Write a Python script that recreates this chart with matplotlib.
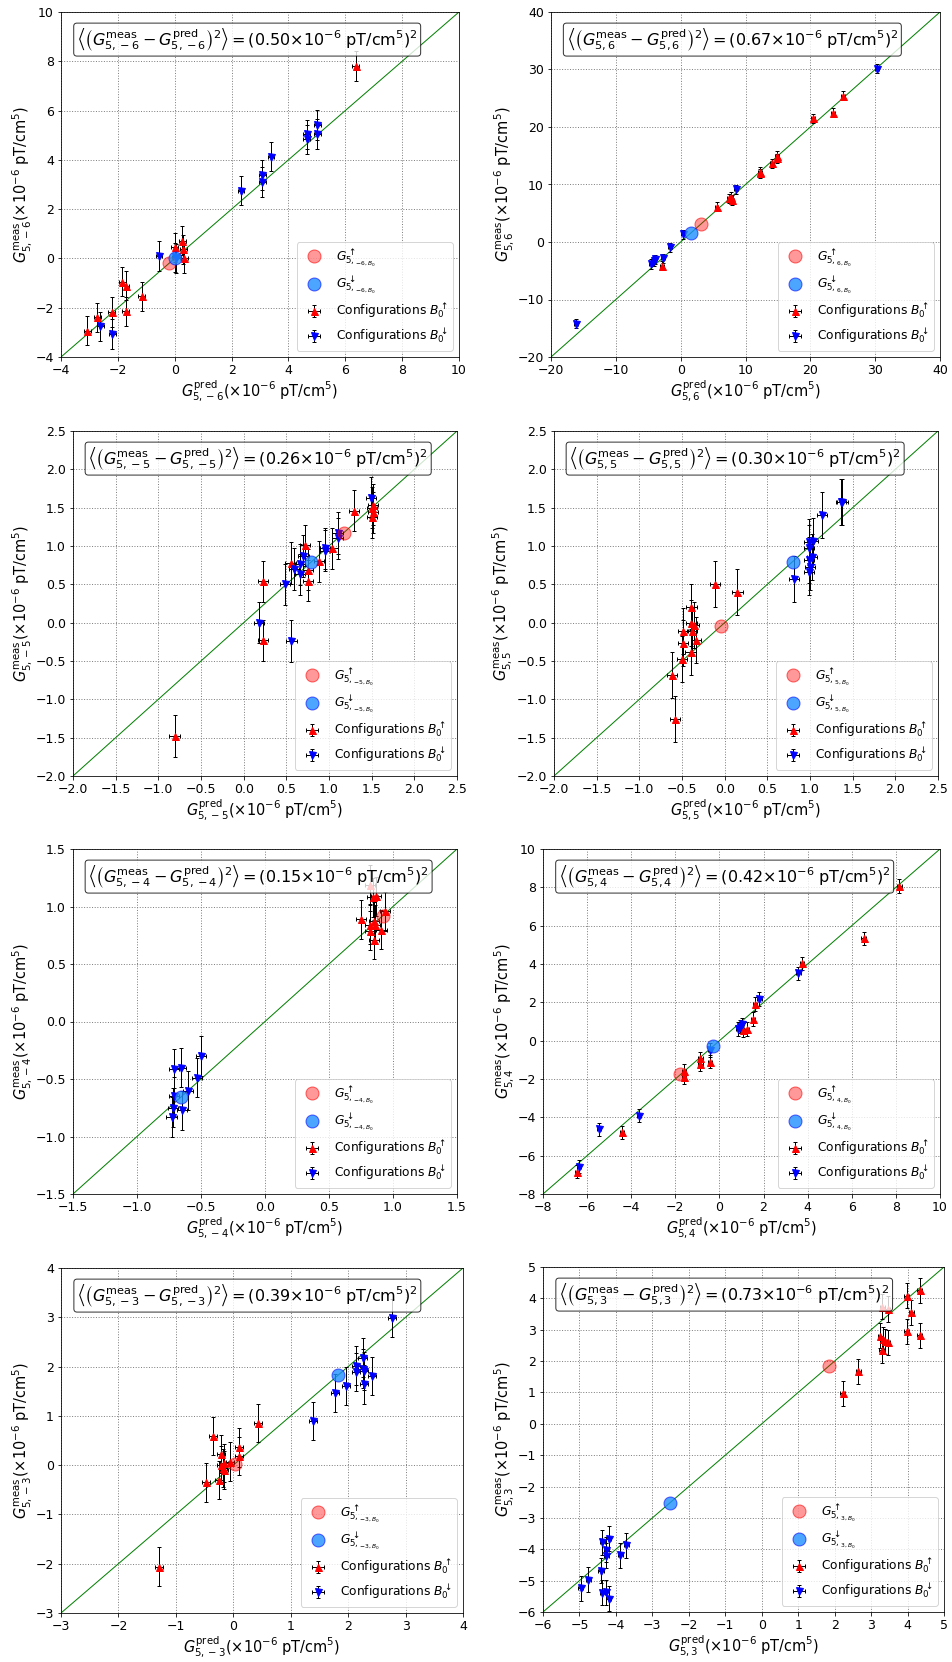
import numpy as np
import matplotlib
matplotlib.use('Agg')
import matplotlib.pyplot as plt

plt.rcParams['font.size'] = 12

# panel order: m = -6, 6, -5, 5, -4, 4, -3, 3
m_values = [-6, 6, -5, 5, -4, 4, -3, 3]
rms_values = ['0.50', '0.67', '0.26', '0.30', '0.15', '0.42', '0.39', '0.73']
limits = [(-4, 10), (-20, 40), (-2, 2.5), (-2, 2.5), (-1.5, 1.5), (-8, 10), (-3, 4), (-6, 5)]
tick_steps = [2, 10, 0.5, 0.5, 0.5, 2, 1, 1]

# Configurations B0 up (red triangles)
up_x = [
    [6.37, 0.00, 0.27, 0.30, 0.33, -1.84, -1.73, -1.73, -1.16, -2.21, -2.73, -3.07],
    [24.99, 23.55, 20.37, 14.87, 14.80, 14.10, 12.17, 12.25, 7.78, 7.43, 7.85, 5.53, -2.85],
    [-0.81, 0.23, 0.23, 0.55, 0.72, 0.75, 0.75, 0.88, 1.04, 1.29, 1.50, 1.52, 1.52, 1.50],
    [-0.58, -0.62, -0.50, -0.49, -0.49, -0.40, -0.39, -0.39, -0.38, -0.36, -0.34, -0.11, 0.15],
    [0.75, 0.82, 0.84, 0.87, 0.82, 0.82, 0.85, 0.86, 0.85, 0.91, 0.94],
    [8.16, 6.54, 3.75, 1.62, 1.51, 1.23, 1.05, -0.43, -0.86, -0.86, -1.60, -1.60, -4.42, -6.46],
    [-1.30, -0.48, -0.25, -0.35, -0.22, -0.22, -0.18, -0.16, -0.17, -0.05, 0.10, 0.10, 0.43],
    [4.34, 3.98, 4.10, 3.31, 3.46, 3.98, 4.34, 3.25, 3.32, 3.37, 3.46, 3.29, 2.65, 2.22],
]
up_y = [
    [7.80, 0.45, 0.72, 0.37, 0.01, -0.94, -1.10, -2.15, -1.54, -2.17, -2.39, -2.93],
    [25.43, 22.47, 21.48, 14.94, 14.55, 13.68, 12.23, 11.95, 7.89, 7.61, 7.31, 6.16, -4.13],
    [-1.48, 0.54, -0.23, 0.78, 1.01, 0.69, 0.55, 0.80, 0.97, 1.46, 1.38, 1.54, 1.44, 1.50],
    [-1.25, -0.68, -0.47, -0.27, -0.11, -0.38, 0.20, -0.01, -0.11, -0.03, -0.22, 0.50, 0.40],
    [0.89, 1.19, 1.08, 1.09, 0.84, 0.79, 0.87, 0.84, 0.71, 0.80, 0.96],
    [8.07, 5.34, 4.03, 1.91, 1.13, 0.61, 0.55, -1.10, -0.92, -1.23, -1.57, -1.91, -4.78, -6.83],
    [-2.06, -0.35, -0.30, 0.59, 0.23, 0.00, -0.06, -0.10, 0.04, 0.07, 0.36, 0.19, 0.86],
    [4.26, 4.08, 3.55, 3.74, 3.66, 2.95, 2.82, 2.81, 2.70, 2.63, 2.60, 2.34, 1.67, 0.98],
]

# Configurations B0 down (blue triangles)
dn_x = [
    [3.39, 3.08, 3.08, 2.33, 4.64, 4.64, 5.02, 5.02, -0.55, 0.01, 0.06, -2.62, -2.20],
    [30.33, 8.50, 0.29, -1.67, -2.75, -3.98, -4.18, -4.59, -16.15],
    [0.18, 0.56, 0.48, 0.59, 0.66, 0.66, 0.70, 0.95, 0.95, 1.10, 1.10, 1.49],
    [0.81, 0.99, 1.03, 0.99, 1.02, 0.99, 1.00, 0.99, 1.14, 1.36, 1.38],
    [-0.71, -0.66, -0.50, -0.53, -0.60, -0.71, -0.72, -0.65, -0.73],
    [3.58, 1.81, 1.01, 0.86, 0.94, -0.42, -3.66, -5.46, -6.37],
    [2.77, 2.25, 2.14, 2.25, 2.27, 2.14, 2.42, 2.27, 1.96, 1.77, 1.39],
    [-4.38, -4.20, -3.72, -3.88, -4.27, -4.27, -4.41, -4.76, -4.96, -4.38, -4.27, -4.20],
]
dn_y = [
    [4.13, 3.38, 3.11, 2.75, 5.03, 4.83, 5.41, 5.04, 0.10, 0.04, 0.00, -2.76, -3.06],
    [30.17, 9.17, 1.35, -0.95, -2.80, -2.98, -3.38, -3.84, -14.21],
    [0.00, -0.24, 0.50, 0.70, 0.76, 0.63, 0.87, 0.97, 0.94, 1.17, 1.10, 1.63],
    [0.57, 1.05, 1.07, 0.97, 0.86, 0.82, 0.73, 0.66, 1.41, 1.57, 1.57],
    [-0.41, -0.40, -0.30, -0.49, -0.60, -0.65, -0.75, -0.77, -0.83],
    [3.51, 2.17, 0.85, 0.61, 0.73, -0.49, -3.91, -4.63, -6.57],
    [2.99, 2.18, 2.02, 1.96, 1.91, 1.89, 1.81, 1.64, 1.61, 1.46, 0.90],
    [-3.78, -3.66, -3.87, -4.19, -4.01, -4.20, -4.68, -4.97, -5.25, -5.39, -5.37, -5.57],
]

# error bar half-widths per panel
x_err = [0.12, 0.3, 0.06, 0.06, 0.04, 0.1, 0.07, 0.07]
y_err = [0.6, 0.8, 0.27, 0.3, 0.17, 0.35, 0.39, 0.4]

# fitted G up / G down points
g_up = [(-0.20, -0.19), (3.11, 3.15), (1.17, 1.17), (-0.04, -0.04),
        (0.92, 0.92), (-1.78, -1.76), (0.03, 0.02), (1.85, 1.83)]
g_dn = [(0.01, 0.01), (1.57, 1.64), (0.79, 0.79), (0.80, 0.79),
        (-0.66, -0.66), (-0.30, -0.28), (1.82, 1.82), (-2.51, -2.53)]

# axes boxes in pixels: left, right, top, bottom
boxes = [(61, 459, 12, 357), (551, 940, 12, 357),
         (73, 457, 431, 776), (554, 938, 431, 776),
         (73, 457, 849, 1194), (543, 940, 849, 1194),
         (61, 463, 1268, 1613), (543, 944, 1267, 1612)]

W, H = 952, 1662
fig = plt.figure(figsize=(W / 72, H / 72), dpi=72)

for i in range(8):
    l, r, t, b = boxes[i]
    ax = fig.add_axes([l / W, 1 - b / H, (r - l) / W, (b - t) / H])
    m = m_values[i]
    sub = f"5,{m}"
    lo, hi = limits[i]

    ax.plot([lo, hi], [lo, hi], color='green', lw=1)
    e1 = ax.errorbar(up_x[i], up_y[i], xerr=x_err[i], yerr=y_err[i], fmt='^', color='red',
                     ecolor='k', elinewidth=1, capsize=2, ms=7)
    e2 = ax.errorbar(dn_x[i], dn_y[i], xerr=x_err[i], yerr=y_err[i], fmt='v', color='blue',
                     ecolor='k', elinewidth=1, capsize=2, ms=7)
    c1, = ax.plot(g_up[i][0], g_up[i][1], 'o', ms=13, mfc=(1, 0, 0, 0.4), mec=(1, 0, 0, 0.6),
                  mew=1, zorder=3)
    c2, = ax.plot(g_dn[i][0], g_dn[i][1], 'o', ms=13, mfc=(0.12, 0.56, 1, 0.8), mec=(0, 0, 1, 0.6),
                  mew=1, zorder=3)

    ax.set_xlim(lo, hi)
    ax.set_ylim(lo, hi)
    ticks = np.arange(lo, hi + 1e-9, tick_steps[i])
    ax.set_xticks(ticks)
    ax.set_yticks(ticks)
    ax.tick_params(labelsize=12.5)
    ax.grid(True, linestyle=':', color='gray', lw=1)

    ax.set_xlabel(rf"$G^{{\mathrm{{pred}}}}_{{{sub}}}(\times10^{{-6}}$ pT/cm$^5)$", fontsize=14.5, labelpad=2)
    ax.set_ylabel(rf"$G^{{\mathrm{{meas}}}}_{{{sub}}}(\times10^{{-6}}$ pT/cm$^5)$", fontsize=14.5, labelpad=2)

    txt = (rf"$\left\langle\left(G^{{\mathrm{{meas}}}}_{{{sub}}}-G^{{\mathrm{{pred}}}}_{{{sub}}}\right)^2\right\rangle"
           rf"=({rms_values[i]}{{\times}}10^{{-6}}$ pT/cm$^5)^2$")
    ax.text(0.04, 0.92, txt, transform=ax.transAxes, ha='left', va='center', fontsize=16,
            bbox=dict(boxstyle='round,pad=0.2', facecolor='white', alpha=0.8))

    labels = [rf"$G^{{\uparrow}}_{{5,_{{{m},B_0}}}}$", rf"$G^{{\downarrow}}_{{5,_{{{m},B_0}}}}$",
              r"Configurations $B_0^{\uparrow}$", r"Configurations $B_0^{\downarrow}$"]
    ax.legend([c1, c2, e1, e2], labels, loc='lower right', fontsize=12.3, labelspacing=0.45)

plt.savefig('out.png', dpi=72)
